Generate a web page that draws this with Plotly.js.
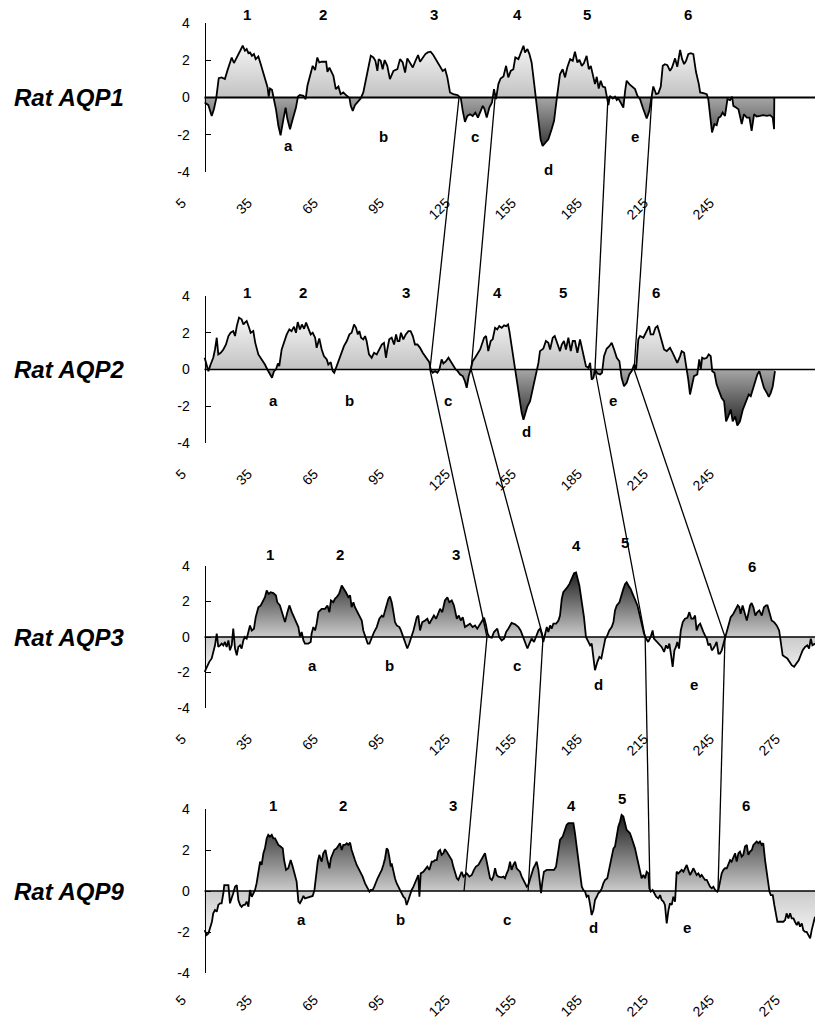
<!DOCTYPE html>
<html>
<head>
<meta charset="utf-8">
<script src="https://cdn.plot.ly/plotly-3.0.1.min.js"></script>
<style>html,body{margin:0;padding:0;background:#fff;}#chart{width:815px;height:1024px;}</style>
</head>
<body>
<div id="chart"></div>
<script>
// ---------- DATA (residue position, hydropathy score) ----------
const aqp1 = [[15.3,-0.27],[17.0,-0.41],[18.5,-0.99],[19.5,-0.63],[20.5,-0.09],[21.7,1.04],[23.0,1.08],[24.5,0.99],[25.6,1.43],[27.6,2.15],[28.6,1.85],[29.8,2.15],[31.4,2.46],[32.6,2.78],[33.6,2.51],[34.4,2.60],[35.2,2.38],[35.9,2.42],[36.8,2.24],[37.7,2.33],[38.5,2.06],[39.7,2.20],[40.8,1.79],[41.7,1.43],[43.2,0.81],[43.9,0.54],[44.4,0.05],[45.0,0.48],[45.9,0.41],[46.5,0.05],[47.7,-0.63],[48.8,-1.52],[49.8,-2.03],[51.1,-1.16],[52.1,-0.54],[52.9,-1.16],[54.1,-1.70],[54.9,-1.34],[55.9,-0.90],[56.8,-0.54],[57.7,0.05],[58.6,0.14],[60.2,0.09],[61.2,-0.09],[62.0,0.63],[63.2,1.13],[64.4,1.70],[65.5,1.47],[66.5,2.15],[67.4,1.88],[68.5,1.92],[70.5,1.92],[71.1,1.38],[72.0,1.61],[73.8,1.16],[74.9,0.45],[76.1,0.59],[77.1,0.18],[78.3,0.27],[79.9,0.09],[81.1,-0.02],[81.7,-0.45],[82.6,-0.72],[83.6,-0.41],[85.2,-0.18],[86.2,-0.05],[87.4,0.27],[88.6,0.99],[89.9,1.61],[90.8,2.24],[92.0,2.15],[92.9,1.97],[93.8,1.43],[94.4,2.06],[95.3,1.97],[96.2,1.52],[97.1,2.01],[98.3,1.70],[99.5,0.99],[101.1,1.43],[102.9,1.52],[104.1,2.06],[105.3,1.88],[106.4,1.34],[107.4,2.10],[108.6,1.88],[109.9,1.61],[111.1,1.97],[112.3,2.28],[113.2,1.92],[114.4,2.10],[115.6,2.33],[116.7,2.42],[118.0,2.46],[119.2,2.28],[120.8,1.97],[122.0,1.70],[123.5,1.43],[124.6,1.52],[125.6,1.08],[126.8,0.27],[128.3,0.18],[130.2,0.13],[131.7,-0.02],[132.6,-0.72],[133.6,-1.31],[134.7,-0.99],[135.9,-0.90],[137.1,-0.99],[138.3,-0.81],[139.5,-1.08],[140.5,-0.81],[141.7,-0.45],[142.4,-0.59],[143.5,-1.08],[144.7,-0.54],[145.9,-0.27],[146.8,0.45],[147.7,-0.09],[148.8,0.72],[149.8,1.02],[151.1,1.13],[152.3,1.70],[153.3,1.08],[154.4,1.43],[155.6,1.52],[156.5,2.15],[157.9,2.06],[158.9,2.33],[160.2,2.78],[160.9,2.42],[162.0,2.60],[162.9,2.33],[163.9,1.88],[165.0,0.81],[165.9,-0.09],[167.0,-1.34],[168.0,-2.24],[168.9,-2.60],[170.0,-2.46],[171.5,-2.24],[173.0,-1.70],[174.1,-1.25],[175.3,-0.09],[176.1,0.54],[176.8,1.25],[178.0,1.52],[179.1,1.08],[180.1,1.61],[181.4,2.06],[182.6,1.97],[183.6,2.46],[184.7,1.88],[185.6,2.03],[186.7,1.70],[187.7,1.85],[188.9,2.24],[189.9,1.52],[190.8,1.70],[191.7,1.16],[192.7,0.72],[193.5,1.11],[194.4,0.48],[195.3,0.90],[196.2,0.59],[197.3,0.54],[198.0,0.09],[198.8,-0.41],[199.5,0.09],[200.8,-0.05],[201.8,0.05],[202.6,-0.13],[203.3,-0.05],[204.4,-0.27],[205.6,-0.54],[206.4,0.36],[207.1,0.90],[208.3,0.72],[209.5,0.59],[210.9,0.45],[212.0,0.09],[213.2,-0.09],[214.4,-0.54],[215.5,-0.90],[216.2,-1.13],[217.4,-0.72],[218.5,0.09],[219.2,0.59],[220.5,0.18],[221.5,0.23],[222.6,0.59],[223.5,1.70],[224.5,1.79],[225.6,1.74],[226.8,1.43],[227.7,1.61],[229.1,2.10],[230.1,1.65],[231.4,2.56],[232.3,2.06],[233.2,1.79],[234.1,1.97],[235.1,2.33],[236.2,2.38],[237.4,2.33],[238.6,1.38],[239.9,0.72],[240.5,0.27],[242.0,0.23],[243.5,0.18],[244.2,-0.09],[245.0,-0.99],[245.9,-1.88],[247.0,-1.43],[248.0,-1.49],[248.9,-1.08],[249.8,-1.02],[250.7,-0.81],[251.8,-0.99],[252.9,-0.09],[254.1,-0.14],[255.0,0.05],[255.6,-0.45],[256.8,-0.54],[257.9,-0.63],[258.6,-0.99],[259.4,-1.43],[260.4,-0.90],[261.7,-1.08],[262.9,-1.08],[263.9,-1.79],[265.0,-0.90],[266.2,-1.02],[267.7,-0.99],[269.2,-0.95],[270.8,-0.99],[272.3,-0.95],[273.5,-1.08],[274.1,-1.70],[274.2,0.00]];

const aqp2 = [[15.3,0.64],[16.2,0.18],[17.0,-0.09],[18.0,0.27],[19.2,0.64],[20.0,1.09],[20.8,1.73],[21.5,0.82],[22.6,0.91],[23.8,1.09],[25.0,1.36],[26.1,1.82],[27.1,2.00],[28.3,2.09],[29.1,1.82],[29.9,2.36],[30.9,2.82],[32.1,2.73],[32.9,2.45],[33.6,2.55],[34.4,2.64],[35.5,2.27],[36.2,2.00],[37.4,2.09],[38.3,1.45],[39.7,0.82],[41.2,0.55],[42.7,0.27],[43.8,0.00],[45.0,-0.27],[45.9,-0.45],[46.8,-0.09],[47.7,0.00],[48.6,0.33],[49.2,0.18],[50.3,1.09],[51.5,1.55],[52.6,1.91],[53.8,2.18],[54.8,2.09],[55.9,2.33],[56.8,2.00],[57.6,2.58],[58.6,2.18],[59.5,2.45],[60.5,2.22],[61.4,2.55],[62.4,2.22],[63.5,1.91],[64.4,2.00],[65.5,1.73],[66.2,1.18],[67.4,1.69],[68.5,1.09],[69.5,0.73],[70.8,0.55],[71.5,0.27],[72.6,0.40],[73.5,-0.09],[74.2,-0.18],[75.3,0.18],[76.5,0.55],[77.6,0.91],[78.6,1.27],[79.9,1.55],[81.1,1.91],[82.1,2.00],[83.2,2.45],[84.1,2.27],[84.9,1.91],[85.6,2.09],[86.4,1.73],[87.4,1.64],[88.2,1.82],[88.9,1.55],[90.0,0.82],[91.2,0.64],[92.3,0.91],[93.5,0.82],[94.7,1.09],[95.8,1.36],[96.8,1.45],[97.7,0.64],[98.3,1.09],[99.2,1.64],[100.3,1.73],[101.4,1.36],[102.3,1.91],[103.0,1.55],[103.8,1.55],[104.5,2.00],[105.6,1.64],[106.7,1.91],[107.9,2.09],[108.9,2.09],[109.9,1.82],[110.9,1.36],[112.0,1.36],[113.2,1.18],[114.4,0.91],[115.5,0.73],[116.5,0.55],[117.4,0.40],[118.0,0.00],[118.9,-0.18],[120.0,-0.09],[121.1,-0.18],[122.0,0.00],[123.0,0.55],[123.8,0.33],[125.0,0.45],[126.1,0.64],[127.1,0.45],[128.3,0.27],[129.4,0.00],[130.3,-0.09],[131.4,-0.27],[132.6,-0.36],[133.6,-0.64],[134.4,-1.00],[135.3,-0.36],[136.2,0.00],[137.1,0.45],[138.2,0.64],[139.2,0.82],[140.5,1.09],[142.3,1.73],[143.2,1.82],[144.2,1.00],[145.3,1.55],[146.2,1.64],[147.3,2.27],[148.3,2.18],[149.2,2.36],[150.3,2.27],[151.4,2.40],[152.3,2.36],[153.2,2.45],[153.8,2.09],[154.8,1.27],[155.6,0.73],[156.5,0.00],[157.4,-0.73],[158.3,-1.64],[159.4,-2.36],[160.2,-2.73],[160.9,-2.45],[162.0,-2.00],[163.2,-1.73],[164.4,-1.09],[165.5,-0.55],[166.2,-0.09],[167.0,0.36],[167.7,1.00],[169.2,1.13],[170.4,1.55],[171.5,1.45],[172.3,1.09],[173.5,1.73],[174.4,1.82],[175.6,1.36],[176.8,1.00],[177.6,1.36],[178.6,1.55],[179.5,1.09],[180.6,1.73],[181.7,1.00],[182.6,1.55],[183.6,1.55],[184.7,0.91],[185.9,1.64],[186.7,1.18],[187.7,0.69],[188.6,0.18],[189.7,0.09],[190.5,0.36],[191.2,-0.55],[192.0,-0.45],[192.7,0.00],[193.8,-0.22],[195.0,-0.27],[195.9,-0.18],[196.8,0.73],[198.0,1.13],[199.2,1.27],[200.3,1.45],[201.4,1.09],[202.6,0.64],[203.8,0.45],[204.8,-0.45],[205.9,-0.91],[207.1,-0.73],[208.3,-0.27],[209.4,-0.09],[210.5,0.27],[211.4,0.04],[212.4,1.64],[213.2,1.82],[214.7,1.73],[215.6,1.96],[216.5,2.18],[217.3,2.36],[218.0,1.91],[219.2,1.91],[220.2,2.27],[221.1,2.36],[222.0,2.00],[223.0,1.55],[224.1,1.09],[225.3,1.00],[226.8,1.18],[228.0,0.91],[229.1,0.64],[230.1,0.36],[231.4,0.73],[232.1,1.00],[233.2,0.91],[234.4,0.09],[235.1,-0.55],[235.9,-1.36],[236.7,-0.82],[237.7,-0.36],[239.2,-0.27],[240.1,0.55],[240.8,0.00],[241.4,0.64],[242.3,0.58],[243.5,0.64],[244.4,0.82],[245.3,0.73],[246.0,-0.09],[247.0,-0.18],[248.0,-0.82],[249.2,-1.27],[250.3,-1.55],[251.4,-1.73],[252.3,-2.82],[253.3,-2.55],[254.4,-2.18],[255.3,-2.82],[256.4,-2.55],[257.4,-3.05],[258.6,-2.82],[259.9,-2.18],[260.9,-1.91],[261.7,-1.64],[262.6,-1.36],[263.5,-1.45],[264.4,-1.09],[265.4,-0.64],[266.5,-0.27],[267.4,-0.09],[268.5,-0.55],[269.5,-1.00],[270.8,-1.27],[271.7,-1.49],[272.6,-1.27],[273.5,-0.91],[274.5,-0.09]];

const aqp3 = [[15.3,-1.96],[16.2,-1.68],[17.4,-1.40],[18.5,-1.21],[19.2,-0.93],[20.0,-0.47],[20.8,0.19],[21.5,-0.56],[22.3,-0.47],[23.0,-0.37],[23.8,-0.47],[24.5,-0.28],[25.3,-0.56],[26.1,-0.19],[26.8,-0.75],[27.6,-0.47],[28.3,0.47],[29.1,-0.65],[29.9,-1.03],[30.6,-0.56],[31.4,-0.47],[32.1,-0.65],[32.9,-0.19],[33.6,0.00],[34.4,-0.09],[35.2,0.37],[35.9,0.65],[36.7,0.37],[37.7,0.47],[38.5,1.12],[39.7,1.68],[40.8,1.78],[42.0,2.06],[42.7,2.24],[43.5,2.62],[44.4,2.43],[45.3,2.52],[46.5,2.47],[47.7,2.34],[48.3,1.96],[49.5,1.78],[50.8,1.31],[51.8,0.84],[52.9,1.40],[53.8,1.78],[54.9,1.40],[55.9,1.12],[56.8,0.93],[57.9,0.56],[58.6,0.04],[59.4,0.28],[60.2,-0.19],[60.9,-0.37],[62.4,-0.37],[63.5,-0.28],[63.9,0.19],[64.7,0.56],[65.5,0.37],[66.2,0.75],[67.0,1.40],[68.5,1.59],[70.0,1.59],[71.1,1.78],[72.0,1.40],[72.7,2.06],[73.8,1.96],[74.5,2.15],[75.3,2.24],[76.4,2.43],[77.6,2.90],[78.6,2.71],[79.5,2.52],[80.6,2.24],[81.4,2.34],[82.1,1.68],[82.9,1.96],[83.6,1.68],[84.4,1.50],[85.6,1.21],[86.7,0.93],[87.4,0.37],[88.5,0.00],[89.4,-0.37],[90.2,-0.37],[91.2,0.00],[92.3,0.28],[93.5,0.56],[94.7,1.03],[95.8,1.21],[96.5,1.12],[97.3,1.50],[98.0,1.78],[98.8,2.15],[99.5,2.28],[100.3,1.96],[101.1,1.40],[101.8,0.84],[102.6,0.65],[103.8,0.56],[104.5,0.37],[105.6,0.00],[106.4,-0.37],[107.4,-0.65],[108.3,-0.37],[109.4,0.00],[110.2,0.37],[111.7,1.12],[112.4,1.21],[113.2,0.37],[114.2,0.84],[115.5,0.93],[116.5,1.03],[117.4,0.75],[118.5,1.03],[119.5,1.21],[120.5,1.03],[121.4,1.31],[122.3,1.59],[123.3,1.40],[124.5,2.06],[125.6,2.24],[126.5,1.96],[127.6,2.06],[128.6,1.78],[129.9,1.03],[130.8,1.21],[131.7,0.93],[132.6,1.12],[133.6,0.56],[134.7,0.65],[135.9,0.75],[137.1,0.56],[138.2,0.65],[139.2,0.47],[140.2,0.65],[141.2,0.84],[142.3,1.08],[143.2,0.65],[143.9,0.19],[144.7,0.00],[145.8,-0.04],[146.8,0.28],[147.7,0.37],[148.3,0.47],[149.2,0.00],[150.3,-0.19],[151.4,-0.09],[152.3,0.28],[153.3,0.47],[154.8,0.79],[156.4,0.71],[157.9,0.56],[158.9,0.37],[160.2,-0.09],[161.2,-0.47],[162.0,-0.65],[162.9,-0.37],[163.9,-0.09],[165.0,-0.28],[165.9,0.00],[167.0,0.37],[167.7,0.47],[168.5,0.19],[169.2,-0.28],[170.0,0.09],[170.8,0.56],[171.5,0.28],[172.3,0.65],[173.0,0.47],[173.8,0.75],[175.0,0.75],[176.1,0.93],[176.8,1.21],[177.6,2.15],[178.3,2.52],[179.1,2.62],[180.1,2.80],[181.1,2.99],[182.1,3.27],[183.2,3.59],[184.1,3.64],[184.7,3.36],[185.6,2.90],[186.7,1.96],[187.7,1.12],[188.6,0.00],[189.7,-0.28],[190.5,-0.47],[191.2,-0.37],[192.0,-1.03],[192.7,-1.87],[193.8,-1.40],[194.7,-1.12],[195.6,-1.21],[196.5,-0.56],[197.4,-0.09],[198.0,0.00],[199.2,0.37],[200.3,0.56],[201.1,0.84],[201.8,1.50],[202.6,1.78],[203.8,1.96],[204.8,2.43],[205.6,2.71],[206.4,2.99],[207.1,3.08],[207.9,2.90],[208.9,2.71],[209.8,2.43],[210.9,2.15],[212.0,1.78],[212.9,1.31],[213.9,0.75],[215.0,0.19],[215.9,-0.09],[216.9,-0.28],[218.0,0.00],[218.9,0.37],[219.5,-0.09],[220.8,-0.28],[222.0,-0.47],[223.0,-0.56],[224.1,-0.84],[225.0,-0.47],[225.8,-0.65],[226.5,-0.37],[227.3,-1.03],[228.0,-1.68],[228.8,-0.75],[229.5,-0.56],[230.1,-0.28],[230.9,-0.65],[231.7,0.37],[232.6,0.84],[233.6,1.03],[234.7,1.08],[235.6,1.40],[236.5,1.03],[237.4,1.03],[238.2,1.21],[238.9,0.37],[239.7,0.65],[240.5,0.75],[241.2,0.47],[242.0,0.28],[242.7,0.09],[243.5,-0.09],[244.2,-0.47],[245.0,-0.37],[245.8,-0.75],[246.5,-0.65],[247.3,-0.47],[248.0,-0.28],[248.8,-0.93],[249.5,-0.93],[250.3,-0.75],[251.1,-0.37],[251.8,0.00],[252.6,0.28],[253.3,0.75],[254.4,1.12],[255.6,1.31],[256.8,1.59],[257.6,1.78],[258.3,1.68],[258.9,1.31],[259.8,1.78],[260.6,1.35],[261.7,0.93],[262.4,1.31],[263.2,1.78],[263.9,1.91],[264.7,1.68],[265.6,1.21],[266.5,1.40],[267.4,1.50],[268.5,1.21],[269.5,1.68],[270.5,1.78],[271.1,1.78],[272.0,1.31],[273.0,0.93],[274.1,0.84],[275.3,0.65],[276.4,0.37],[277.1,-0.37],[278.0,-1.03],[279.1,-1.12],[280.1,-1.21],[281.1,-1.40],[282.1,-1.59],[283.2,-1.68],[284.4,-1.50],[285.3,-1.31],[286.2,-1.03],[287.1,-0.75],[288.2,-0.56],[289.2,-0.47],[290.0,-0.65],[290.8,-0.09],[291.5,-0.47],[292.7,-0.37]];

const aqp9 = [[15.3,-1.91],[16.2,-2.15],[17.0,-2.07],[17.7,-1.82],[18.6,-1.50],[19.2,-1.09],[20.0,-0.93],[20.8,-1.01],[21.5,-0.68],[22.3,-0.60],[23.0,-0.60],[23.8,-0.11],[24.2,0.29],[25.3,0.29],[26.1,0.29],[26.8,-0.60],[27.6,-0.36],[28.3,-0.11],[29.1,0.21],[29.9,0.29],[30.6,-0.44],[31.4,-0.68],[32.1,-0.77],[32.9,-0.68],[33.6,-0.68],[34.4,-0.52],[35.2,-0.77],[35.9,0.05],[36.7,-0.28],[37.4,-0.11],[38.2,0.05],[38.9,0.37],[39.7,0.94],[40.5,1.43],[41.2,1.27],[42.0,1.84],[42.7,2.08],[43.5,2.57],[44.2,2.74],[45.0,2.65],[45.8,2.74],[46.5,2.57],[47.3,2.57],[48.0,2.41],[48.8,2.25],[49.8,2.17],[50.8,2.08],[51.4,1.51],[52.3,1.03],[53.3,1.11],[54.4,1.51],[55.3,1.19],[56.4,0.78],[57.1,0.46],[57.9,-0.52],[58.6,-0.60],[59.4,-0.44],[60.2,-0.24],[60.9,-0.36],[62.0,-0.31],[63.2,-0.28],[64.4,-0.24],[65.2,0.05],[65.9,0.78],[66.7,1.43],[67.4,1.76],[68.5,1.43],[69.2,1.84],[70.2,2.00],[71.1,1.51],[72.0,1.11],[72.7,1.60],[73.5,1.84],[74.2,2.00],[75.3,2.08],[76.1,2.25],[76.8,2.33],[77.6,2.00],[78.3,2.25],[79.1,2.25],[79.9,2.33],[80.6,2.25],[81.4,2.36],[82.1,2.00],[82.9,1.68],[83.6,1.51],[84.4,1.27],[85.2,1.11],[86.2,0.86],[87.1,0.70],[88.2,0.37],[89.2,0.13],[90.2,-0.03],[90.8,0.05],[91.7,0.05],[92.4,0.21],[93.2,0.46],[93.9,0.62],[95.0,0.86],[95.8,1.03],[96.5,1.27],[97.3,1.60],[98.0,2.08],[98.6,2.00],[99.2,1.68],[99.9,1.19],[100.3,1.35],[101.1,0.94],[101.8,0.62],[102.6,0.37],[103.3,0.21],[104.1,0.05],[104.9,-0.11],[105.6,-0.28],[106.4,-0.36],[107.1,-0.68],[107.9,-0.44],[108.6,-0.20],[109.4,0.05],[110.2,0.21],[110.9,0.37],[111.7,0.62],[112.4,0.78],[112.9,-0.28],[113.5,0.86],[114.7,0.94],[115.5,1.03],[116.5,1.19],[117.4,1.03],[118.5,1.43],[119.2,1.43],[120.0,1.51],[120.8,1.51],[121.5,1.92],[122.3,2.00],[123.0,1.76],[123.8,1.84],[124.5,2.04],[125.3,1.92],[126.1,1.76],[126.8,1.68],[127.6,1.51],[128.3,1.19],[129.1,0.94],[129.9,0.62],[130.6,0.54],[131.4,0.78],[132.1,0.94],[132.9,0.70],[134.4,0.86],[135.6,0.70],[136.7,0.78],[137.7,1.03],[138.6,1.19],[139.7,1.27],[140.5,1.43],[141.7,1.60],[142.7,1.84],[143.5,1.43],[144.2,1.03],[145.0,0.62],[145.8,0.54],[146.5,0.70],[147.3,1.11],[148.0,0.78],[148.8,0.70],[150.3,0.67],[151.1,0.70],[151.8,0.62],[152.6,0.86],[153.3,1.03],[154.1,1.43],[154.8,1.03],[155.6,1.27],[156.4,1.43],[157.1,1.11],[157.9,1.03],[158.6,0.94],[159.4,0.70],[160.1,0.54],[160.9,0.37],[161.7,0.21],[162.4,0.29],[163.2,0.62],[163.9,0.86],[164.7,1.11],[165.5,1.27],[166.2,1.43],[167.0,1.03],[167.7,0.21],[168.2,-0.11],[168.8,0.46],[169.5,0.94],[170.8,1.03],[172.0,1.03],[173.0,1.03],[174.1,1.03],[175.0,1.19],[176.1,2.00],[176.8,2.49],[178.0,2.65],[179.1,2.98],[179.8,3.22],[180.6,3.31],[181.7,3.31],[182.9,3.31],[183.6,2.82],[184.7,1.92],[185.6,1.03],[186.7,0.21],[187.4,0.05],[188.2,-0.03],[188.9,-0.28],[189.7,-0.20],[190.5,-0.68],[191.2,-1.17],[192.0,-0.93],[192.7,-0.44],[193.5,-0.28],[194.2,-0.11],[195.0,-0.03],[195.8,0.13],[196.5,0.37],[197.3,0.54],[198.3,0.62],[199.2,1.11],[200.3,1.76],[201.1,2.08],[201.8,2.17],[202.6,2.82],[203.3,3.14],[204.1,3.39],[204.8,3.71],[205.6,3.63],[206.4,3.31],[207.1,2.98],[207.9,2.90],[208.6,2.82],[209.4,2.57],[210.2,2.33],[210.9,2.08],[211.7,1.68],[212.4,1.35],[213.2,1.03],[213.9,0.62],[214.7,0.78],[215.5,0.62],[216.2,0.94],[217.0,0.86],[217.4,0.13],[218.0,-0.03],[218.9,0.05],[219.5,-0.11],[220.5,-0.28],[221.5,-0.36],[222.3,-0.20],[223.0,-0.44],[223.8,-0.52],[224.5,-0.68],[225.3,-1.58],[226.1,-0.93],[226.8,-0.60],[227.6,-0.68],[228.3,-0.28],[229.1,-0.52],[229.8,0.94],[230.6,0.86],[231.4,0.94],[232.1,1.03],[232.9,0.94],[233.6,1.11],[234.4,1.27],[235.1,1.03],[235.9,0.78],[236.7,0.94],[237.4,1.11],[238.2,0.94],[238.9,0.78],[239.7,0.86],[240.5,0.70],[241.2,0.78],[242.0,0.62],[242.7,0.54],[243.5,0.54],[244.2,0.37],[245.0,0.21],[245.8,0.13],[246.5,0.21],[247.3,0.05],[248.3,-0.03],[248.8,0.05],[249.5,0.54],[250.3,0.86],[251.1,1.03],[251.8,1.11],[252.6,1.11],[253.3,1.35],[254.1,1.51],[254.8,1.43],[255.6,1.68],[256.4,1.84],[257.1,1.43],[257.9,1.84],[258.6,1.92],[259.4,1.68],[260.1,1.76],[260.9,2.17],[261.7,2.25],[262.4,1.76],[263.2,1.92],[264.0,2.00],[264.7,2.25],[265.5,2.33],[266.2,2.41],[267.0,2.33],[267.7,2.41],[268.5,2.25],[269.2,2.33],[270.0,1.51],[270.8,0.86],[271.5,0.13],[272.0,-0.03],[272.6,-0.20],[273.5,-0.20],[274.2,-0.68],[275.0,-1.09],[275.6,-1.50],[276.8,-1.50],[278.3,-1.50],[279.1,-1.42],[279.8,-1.09],[280.6,-1.34],[281.4,-1.09],[282.1,-1.34],[282.9,-1.34],[283.6,-1.50],[284.4,-1.66],[285.2,-1.50],[285.9,-1.74],[286.7,-1.58],[287.4,-1.91],[288.2,-1.99],[288.9,-1.99],[289.7,-2.15],[290.5,-2.31],[291.2,-1.91],[292.0,-1.58],[292.7,-1.25]];

const panelNames = ['Rat AQP1', 'Rat AQP2', 'Rat AQP3', 'Rat AQP9'];
const helixLabels = ['1', '2', '3', '4', '5', '6'];
const loopLabels = ['a', 'b', 'c', 'd', 'e'];
const tickLabelsAQP12 = [5, 35, 65, 95, 125, 155, 185, 215, 245];
const tickLabelsAQP39 = [5, 35, 65, 95, 125, 155, 185, 215, 245, 275];
const yTickValues = [-4, -2, 0, 2, 4];
// residue positions of the helix boundaries linked between neighbouring profiles
const boundaryAQP1 = [130.9, 147.3, 198.6, 218.6];
const boundaryAQP2 = [117.7, 136.4, 192.7, 210.5];
const boundaryAQP3 = [143.6, 169.1, 215.5, 251.8];
const boundaryAQP9 = [133.2, 162.3, 217.7, 248.6];

// ---------- PRESENTATION ----------
const series = [aqp1, aqp2, aqp3, aqp9];
const tickSets = [tickLabelsAQP12, tickLabelsAQP12, tickLabelsAQP39, tickLabelsAQP39];
const boundaries = [boundaryAQP1, boundaryAQP2, boundaryAQP3, boundaryAQP9];
const FONT = 'Liberation Sans, Arial, Helvetica, sans-serif';
const W = 815, H = 1024;
const xDomain = [182 / W, 1];
const yAxisPos = 204.5 / W;
const xRange = [5, 292.7];
const yRange = [-4, 4];
const domains = [[1 - 172 / H, 1 - 23 / H], [1 - 443 / H, 1 - 296 / H], [1 - 708 / H, 1 - 566 / H], [1 - 973 / H, 1 - 809 / H]];
const zeroLineW = [2, 1.6, 1.6, 1.3];
const xStandoff = [19, 19, 19, 15];

const gradLight = {type: 'vertical', start: -3, stop: 3,
  colorscale: [[0, '#2a2a2a'], [0.5, '#a6a6a6'], [0.5, '#c2c2c2'], [1, '#f8f8f8']]};
const gradDark = {type: 'vertical', start: -2.5, stop: 3.7,
  colorscale: [[0, '#fbfbfb'], [0.403, '#cbcbcb'], [1, '#1c1c1c']]};
const grads = [gradLight, gradLight, gradDark, gradDark];

// label anchor positions (residue, score) for helix numbers and loop letters
const helixPos = [
  [[34.5, 4.46], [69.1, 4.46], [119.5, 4.46], [157.7, 4.46], [189.1, 4.46], [235.0, 4.46]],
  [[34.5, 4.18], [60.0, 4.18], [106.8, 4.18], [148.6, 4.18], [178.2, 4.18], [220.5, 4.2]],
  [[45.0, 4.62], [76.8, 4.62], [129.5, 4.62], [184.1, 5.18], [206.4, 5.3], [264.1, 4.0]],
  [[46.4, 4.15], [78.2, 4.15], [128.2, 4.15], [181.8, 4.15], [205.0, 4.49], [261.4, 4.15]]
];
const loopPos = [
  [[53.2, -2.58], [96.4, -2.1], [138.2, -2.1], [171.4, -3.87], [210.9, -2.1]],
  [[46.4, -1.68], [80.9, -1.68], [125.9, -1.68], [161.4, -3.37], [200.9, -1.68]],
  [[64.5, -1.58], [99.1, -1.58], [157.3, -1.58], [194.5, -2.65], [237.7, -2.65]],
  [[59.5, -1.41], [104.1, -1.41], [152.7, -1.37], [191.8, -1.76], [234.5, -1.76]]
];

const sfx = i => (i === 0 ? '' : String(i + 1));
// paper y of a score value in panel i (labels may sit outside the axis range)
const valPaper = (i, v) => {
  const d = domains[i];
  return d[0] + (v - yRange[0]) / (yRange[1] - yRange[0]) * (d[1] - d[0]);
};

const traces = series.map((s, i) => ({
  type: 'scatter', mode: 'lines',
  x: s.map(p => p[0]), y: s.map(p => p[1]),
  xaxis: 'x' + sfx(i), yaxis: 'y' + sfx(i),
  line: {color: '#000', width: 1.8},
  fill: 'tozeroy', fillgradient: grads[i],
  hoverinfo: 'skip', showlegend: false
}));

const layout = {
  width: W, height: H,
  margin: {l: 0, r: 0, t: 0, b: 0},
  paper_bgcolor: '#fff', plot_bgcolor: 'rgba(0,0,0,0)',
  showlegend: false,
  font: {family: FONT, color: '#000', size: 14},
  shapes: [], annotations: []
};

const labelFont = {family: FONT, size: 15, color: '#000', weight: 'bold'};
series.forEach((s, i) => {
  layout['xaxis' + sfx(i)] = {
    domain: xDomain, range: xRange, anchor: 'y' + sfx(i),
    tickmode: 'array', tickvals: tickSets[i], ticktext: tickSets[i].map(String),
    tickangle: -45, ticks: '', showline: false, showgrid: false, zeroline: false,
    ticklabelstandoff: xStandoff[i], tickfont: {family: FONT, size: 14, color: '#000'}, fixedrange: true
  };
  layout['yaxis' + sfx(i)] = {
    domain: domains[i], range: yRange, anchor: 'free', position: yAxisPos,
    tickmode: 'array', tickvals: yTickValues, ticktext: yTickValues.map(String),
    ticks: 'inside', ticklen: 5, tickwidth: 1, tickcolor: '#000',
    showline: true, linecolor: '#000', linewidth: 1,
    showgrid: false, zeroline: false, ticklabelstandoff: 12,
    tickfont: {family: FONT, size: 14, color: '#000'}, fixedrange: true
  };
  // zero baseline
  layout.shapes.push({type: 'line', xref: 'paper', yref: 'y' + sfx(i),
    x0: yAxisPos, x1: 1, y0: 0, y1: 0, line: {color: '#000', width: zeroLineW[i]}});
  // panel name
  layout.annotations.push({text: panelNames[i], xref: 'paper', yref: 'paper',
    x: 69 / W, y: valPaper(i, 0), xanchor: 'center', yanchor: 'middle', showarrow: false,
    font: {family: FONT, size: 24, color: '#000', weight: 'bold', style: 'italic'}});
  helixLabels.forEach((t, j) => layout.annotations.push({text: t, xref: 'x' + sfx(i), yref: 'paper',
    x: helixPos[i][j][0], y: valPaper(i, helixPos[i][j][1]), showarrow: false,
    xanchor: 'center', yanchor: 'middle', font: labelFont}));
  loopLabels.forEach((t, j) => layout.annotations.push({text: t, xref: 'x' + sfx(i), yref: 'paper',
    x: loopPos[i][j][0], y: valPaper(i, loopPos[i][j][1]), showarrow: false,
    xanchor: 'center', yanchor: 'middle', font: labelFont}));
});

// connecting lines between corresponding boundaries of consecutive profiles
for (let i = 0; i < boundaries.length - 1; i++) {
  boundaries[i].forEach((b, j) => layout.shapes.push({type: 'line', xref: 'x', yref: 'paper',
    x0: b, y0: valPaper(i, 0), x1: boundaries[i + 1][j], y1: valPaper(i + 1, 0),
    line: {color: '#000', width: 1.3}}));
}

Plotly.newPlot('chart', traces, layout, {staticPlot: true, displayModeBar: false});
</script>
</body>
</html>
